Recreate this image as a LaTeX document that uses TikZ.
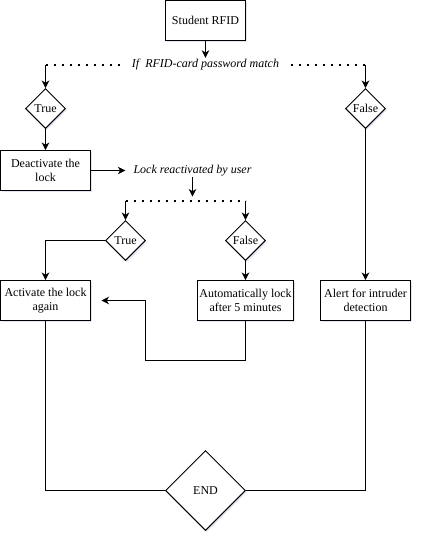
\documentclass[tikz,border=0pt]{standalone}
\usepackage{fontspec}
\setmainfont{Liberation Serif}
\usetikzlibrary{arrows.meta,shapes.geometric,shadows}
\begin{document}
\begin{tikzpicture}[x=1pt,y=-1pt,
  font=\fontsize{12}{14}\selectfont,
  shade/.style={drop shadow={shadow xshift=1.5pt,shadow yshift=-1.5pt,fill=black!40!blue!30,opacity=0.35}},
  box/.style={draw,line width=1pt,fill=white,align=center,inner sep=0pt,minimum height=40pt,shade},
  dec/.style={draw,diamond,aspect=1,inner sep=0pt,minimum size=40pt,fill=white,line width=1pt,shade},
  lbl/.style={inner xsep=12pt,inner ysep=1pt,font=\fontsize{12}{14}\selectfont\itshape},
  arr/.style={line width=1pt,-{Stealth[length=7.5pt,width=7.5pt,inset=2.2pt]}},
  ln/.style={line width=1pt},
  dotline/.style={line width=2pt,dash pattern=on 2pt off 6pt}]
\useasboundingbox (0,0) rectangle (422,542);

% nodes
\node[box,minimum width=80pt] (rfid) at (205.5,20.5) {Student RFID};
\node[lbl] (c1) at (205.5,64.5) {If\ \ RFID-card password match};
\node[dec] (t1) at (45.5,108.5) {True};
\node[dec] (f1) at (365.5,108.5) {False};
\node[box,minimum width=90pt] (deact) at (45.5,170.5) {Deactivate the\\lock};
\node[lbl,inner xsep=8pt] (c2) at (192.5,170.5) {Lock reactivated by user};
\node[dec] (t2) at (125.5,240.5) {True};
\node[dec] (f2) at (245.5,240.5) {False};
\node[box,minimum width=90pt] (act) at (45.5,300.5) {Activate the lock\\again};
\node[box,minimum width=96pt] (auto) at (245.5,300.5) {Automatically lock\\after 5 minutes};
\node[box,minimum width=90pt] (alert) at (365.5,300.5) {Alert for intruder\\detection};
\node[dec,minimum size=80pt] (end) at (205.5,490.5) {END};

% junction points
\coordinate (j1) at (45.5,64.5);
\coordinate (j2) at (365.5,64.5);
\coordinate (j3) at (192.5,200.5);
\coordinate (j4) at (125.5,200.5);
\coordinate (j5) at (245.5,200.5);
\coordinate (k1) at (245.5,360.5);
\coordinate (k2) at (145.5,360.5);
\coordinate (k3) at (145.5,300.5);
\coordinate (k4) at (90.5,300.5);

% connectors
\draw[arr] (rfid.south) -- (c1.north);
\draw[dotline] (c1.west) -- (j1);
\draw[dotline] (c1.east) -- (j2);
\draw[arr] (j1) -- (t1.north);
\draw[arr] (j2) -- (f1.north);
\draw[arr] (t1.south) -- (deact.north);
\draw[arr] (f1.south) -- (alert.north);
\draw[arr] (deact.east) -- (c2.west);
\draw[arr,shorten >=4pt] (c2.south) -- (j3);
\draw[dotline] (j4) -- (j5);
\draw[arr] (j4) -- (t2.north);
\draw[arr] (j5) -- (f2.north);
\draw[arr] (t2.west) -| (act.north);
\draw[arr] (f2.south) -- (auto.north);
\draw[arr,shorten >=11pt] (auto.south) -- (k1) -- (k2) -- (k3) -- (k4);
\draw[ln] (act.south) |- (end.west);
\draw[ln] (alert.south) |- (end.east);
\end{tikzpicture}
\end{document}
